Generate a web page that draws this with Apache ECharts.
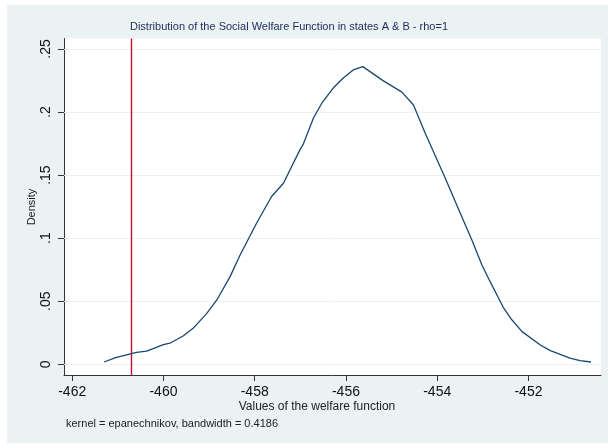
<!DOCTYPE html>
<html>
<head>
<meta charset="utf-8">
<script src="https://cdn.jsdelivr.net/npm/echarts@6/dist/echarts.min.js"></script>
<style>html,body{margin:0;padding:0;background:#fff}#c{width:608px;height:448px}</style>
</head>
<body>
<div id="c"></div>
<script>
// Data
var welfareValues = [-461.30, -461.05, -460.59, -460.37, -460.00, -459.86, -459.57, -459.35, -459.05, -458.83, -458.54, -458.32, -457.96, -457.63, -457.37, -457.01, -456.93, -456.71, -456.53, -456.28, -456.06, -455.84, -455.63, -455.18, -454.78, -454.52, -454.27, -453.83, -453.43, -453.24, -453.02, -452.84, -452.55, -452.36, -452.14, -451.74, -451.52, -451.09, -450.87, -450.63];
var densityValues = [0.0018, 0.0052, 0.0095, 0.0105, 0.0155, 0.0167, 0.0224, 0.0285, 0.0404, 0.0510, 0.0695, 0.0867, 0.1118, 0.1330, 0.1435, 0.1700, 0.1750, 0.1955, 0.2070, 0.2190, 0.2270, 0.2334, 0.2360, 0.2247, 0.2160, 0.2056, 0.1838, 0.1481, 0.1144, 0.0986, 0.0787, 0.0655, 0.0450, 0.0351, 0.0259, 0.0153, 0.0108, 0.0048, 0.0029, 0.0018];
var xTickValues = [-462, -460, -458, -456, -454, -452];
var yTickValues = [0, 0.05, 0.1, 0.15, 0.2, 0.25];
var refLineX = -460.70;
var titleText = 'Distribution of the Social Welfare Function in states A & B - rho=1';
var xTitle = 'Values of the welfare function';
var yTitle = 'Density';
var noteText = 'kernel = epanechnikov, bandwidth = 0.4186';

var FONT = '"Liberation Sans", Arial, sans-serif';
var chart = echarts.init(document.getElementById('c'), null, {renderer: 'canvas'});
var points = welfareValues.map(function (x, i) { return [x, densityValues[i]]; });

chart.setOption({
  animation: false,
  backgroundColor: '#ffffff',
  graphic: [
    {type: 'rect', z: -100, silent: true, shape: {x: 7, y: 5, width: 601, height: 438}, style: {fill: '#eaf2f3'}},
    {type: 'text', z: 10, x: 289, y: 27, style: {text: titleText, font: '11px ' + FONT, fill: '#1c2b5a', align: 'center', verticalAlign: 'middle'}},
    {type: 'text', z: 10, x: 32, y: 207, rotation: Math.PI / 2, style: {text: yTitle, font: '11px ' + FONT, fill: '#222', align: 'center', verticalAlign: 'middle'}},
    {type: 'text', z: 10, x: 317, y: 407, style: {text: xTitle, font: '12px ' + FONT, fill: '#222', align: 'center', verticalAlign: 'middle'}},
    {type: 'text', z: 10, x: 66, y: 424, style: {text: noteText, font: '11px ' + FONT, fill: '#222', align: 'left', verticalAlign: 'middle'}}
  ],
  grid: {left: 64, right: 7, top: 38.5, bottom: 73, show: true, backgroundColor: '#ffffff', borderWidth: 0},
  xAxis: {
    type: 'value', min: -462.18, max: -450.41,
    axisLine: {show: true, onZero: false, lineStyle: {color: '#333', width: 1}},
    axisTick: {show: true, length: 6, customValues: xTickValues, lineStyle: {color: '#333'}},
    axisLabel: {customValues: xTickValues, margin: 10, fontSize: 14, fontFamily: FONT, color: '#111', formatter: function (v) { return String(v); }},
    splitLine: {show: false}
  },
  yAxis: {
    type: 'value', min: -0.0085, max: 0.2583,
    axisLine: {show: true, onZero: false, lineStyle: {color: '#333', width: 1}},
    axisTick: {show: true, length: 6, customValues: yTickValues, lineStyle: {color: '#333'}},
    axisLabel: {customValues: yTickValues, rotate: 90, margin: 11, fontSize: 14, fontFamily: FONT, color: '#111',
      formatter: function (v) { return v === 0 ? '0' : String(Math.round(v * 100) / 100).replace(/^0/, ''); }},
    splitLine: {show: false}
  },
  series: [
    {
      type: 'line', data: points, showSymbol: false, smooth: false, silent: true,
      lineStyle: {color: '#1a476f', width: 1.3},
      z: 5,
      markLine: {
        silent: true, symbol: 'none', label: {show: false}, animation: false,
        data: yTickValues.map(function (v) { return {yAxis: v, lineStyle: {color: '#eaf2f3', width: 1, type: 'solid'}}; })
      }
    },
    {
      type: 'line', data: [], z: 6, color: '#c8102e',
      markLine: {
        silent: true, symbol: 'none', label: {show: false}, animation: false,
        lineStyle: {color: '#c8102e', width: 1.4, type: 'solid'},
        data: [{xAxis: refLineX}]
      }
    }
  ]
});
</script>
</body>
</html>
